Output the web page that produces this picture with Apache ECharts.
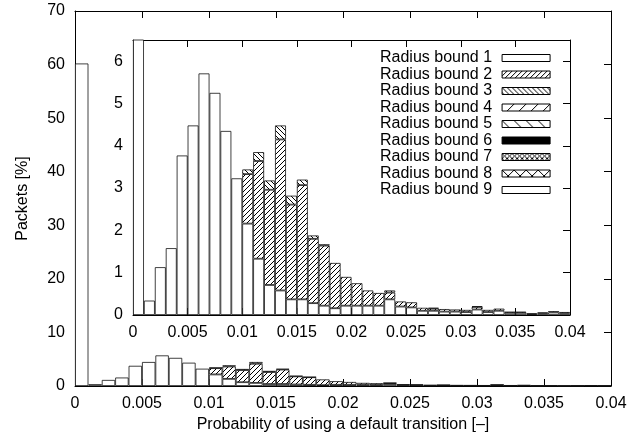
<!DOCTYPE html>
<html>
<head>
<meta charset="utf-8">
<script src="https://cdn.jsdelivr.net/npm/echarts@6/dist/echarts.min.js"></script>
<style>
html,body{margin:0;padding:0;background:#fff;}
#c{width:632px;height:440px;}
</style>
</head>
<body>
<div id="c"></div>
<script>
// bins of width 0.001 from 0 to 0.04 (lower edge labels)
const bins = ['0.000','0.001','0.002','0.003','0.004','0.005','0.006','0.007','0.008','0.009',
  '0.010','0.011','0.012','0.013','0.014','0.015','0.016','0.017','0.018','0.019',
  '0.020','0.021','0.022','0.023','0.024','0.025','0.026','0.027','0.028','0.029',
  '0.030','0.031','0.032','0.033','0.034','0.035','0.036','0.037','0.038','0.039'];

const seriesNames = ['Radius bound 1','Radius bound 2','Radius bound 3','Radius bound 4','Radius bound 5',
  'Radius bound 6','Radius bound 7','Radius bound 8','Radius bound 9'];

const bound1 = [60.2,0.34,1.13,1.58,3.77,4.48,5.71,5.25,4.35,3.23,
  2.16,1.33,0.71,0.58,0.37,0.37,0.28,0.22,0.16,0.22,
  0.22,0.22,0.22,0.37,0.20,0.18,0.10,0.10,0.08,0.08,
  0.07,0.13,0.07,0.10,0.05,0.05,0.02,0.04,0.06,0.04];
const bound2 = [null,null,null,null,null,null,null,null,null,null,
  1.17,2.31,2.25,3.57,2.24,2.70,1.52,1.42,1.07,0.68,
  0.53,0.36,0.30,0.16,0.12,0.12,0.07,0.05,0.06,0.05,
  0.05,0.06,0.05,0.05,0.03,0.03,0.02,0.02,0.03,0.03];
const bound3 = [null,null,null,null,null,null,null,null,null,null,
  0.11,0.21,0.22,0.33,0.21,0.13,0.08,0.03,null,null,
  null,null,null,0.05,null,null,null,0.02,null,null,
  null,0.02,null,null,null,null,null,null,null,null];
const bound4 = [];
const bound5 = [];
const bound6 = [];
const bound7 = [];
const bound8 = [];
const bound9 = [];
const seriesData = [bound1,bound2,bound3,bound4,bound5,bound6,bound7,bound8,bound9];

const xTicksOuter = {min:0, max:0.04, interval:0.005};
const yOuter = {min:0, max:70, interval:10};
const yInset = {min:0, max:6.5, interval:1};

function hatch(size, kinds, lw) {
  const c = document.createElement('canvas');
  c.width = size; c.height = size;
  const g = c.getContext('2d');
  g.fillStyle = '#fff'; g.fillRect(0,0,size,size);
  g.strokeStyle = '#000'; g.lineWidth = lw;
  g.beginPath();
  for (const k of [-size, 0, size]) {
    if (kinds.indexOf('/') >= 0) { g.moveTo(k, size); g.lineTo(k+size, 0); }
    if (kinds.indexOf('\\') >= 0) { g.moveTo(k, 0); g.lineTo(k+size, size); }
  }
  g.stroke();
  return c;
}
const fills = [
  '#ffffff',
  {image: hatch(5,'/',1), repeat:'repeat'},
  {image: hatch(5,'\\',1), repeat:'repeat'},
  {image: hatch(12,'/',1), repeat:'repeat'},
  {image: hatch(12,'\\',1), repeat:'repeat'},
  '#000000',
  {image: hatch(5,'/\\',1), repeat:'repeat'},
  {image: hatch(12,'/\\',1), repeat:'repeat'},
  '#ffffff'
];

const FONT = 'Liberation Sans, Arial, Helvetica, sans-serif';
const FS = 16;
const lineStyle = {color:'#000', width:1};

function valX(gridIndex, pos, labels) {
  return {type:'value', gridIndex, position:pos, min:xTicksOuter.min, max:xTicksOuter.max, interval:xTicksOuter.interval,
    axisLine:{show:true, onZero:false, lineStyle},
    axisTick:{show:true, inside:true, length:7, lineStyle},
    axisLabel:{show:labels, color:'#000', fontFamily:FONT, fontSize:FS, margin:10, formatter:v=>String(+v.toFixed(3))},
    splitLine:{show:false}};
}
function catX(gridIndex) {
  return {type:'category', gridIndex, data:bins, show:false, boundaryGap:true};
}
function valY(gridIndex, pos, labels, r, extra) {
  return Object.assign({type:'value', gridIndex, position:pos, min:r.min, max:r.max, interval:r.interval,
    axisLine:{show:true, onZero:false, lineStyle},
    axisTick:{show:true, inside:true, length:7, lineStyle},
    axisLabel:{show:labels, color:'#000', fontFamily:FONT, fontSize:FS, margin:10, showMaxLabel: r.max % r.interval === 0},
    splitLine:{show:false}}, extra||{});
}

const series = [];
[0,1].forEach(g => {
  seriesNames.forEach((name, i) => {
    series.push({
      type:'bar', name, xAxisIndex:g*3, yAxisIndex:g*2, stack:'s'+g,
      barWidth:'100%', barCategoryGap:'0%',
      itemStyle:{color:fills[i], borderColor:'#111', borderWidth:0.8},
      emphasis:{disabled:true},
      data: seriesData[i]
    });
  });
});

const chart = echarts.init(document.getElementById('c'), null, {renderer:'canvas'});
chart.setOption({
  animation:false,
  backgroundColor:'#fff',
  textStyle:{fontFamily:FONT},
  grid:[
    {left:75, right:21, top:11, bottom:54},
    {left:133, right:62, top:40, bottom:125}
  ],
  xAxis:[
    catX(0),
    Object.assign(valX(0,'bottom',true), {name:'Probability of using a default transition [–]', nameLocation:'middle', nameGap:27,
      nameTextStyle:{color:'#000', fontFamily:FONT, fontSize:FS}}),
    valX(0,'top',false),
    catX(1),
    valX(1,'bottom',true),
    valX(1,'top',false)
  ],
  yAxis:[
    valY(0,'left',true,yOuter,{name:'Packets [%]', nameLocation:'middle', nameGap:44,
      nameTextStyle:{color:'#000', fontFamily:FONT, fontSize:FS}}),
    valY(0,'right',false,yOuter),
    valY(1,'left',true,yInset),
    valY(1,'right',false,yInset)
  ],
  legend:{
    data:seriesNames, orient:'vertical', left:375, top:45, align:'right',
    icon:'rect', itemWidth:48, itemHeight:7, itemGap:0.5, selectedMode:false,
    itemStyle:{borderColor:'#000', borderWidth:1},
    textStyle:{color:'#000', fontFamily:FONT, fontSize:FS, lineHeight:16, padding:[0,5,0,0]}
  },
  series
});
</script>
</body>
</html>
